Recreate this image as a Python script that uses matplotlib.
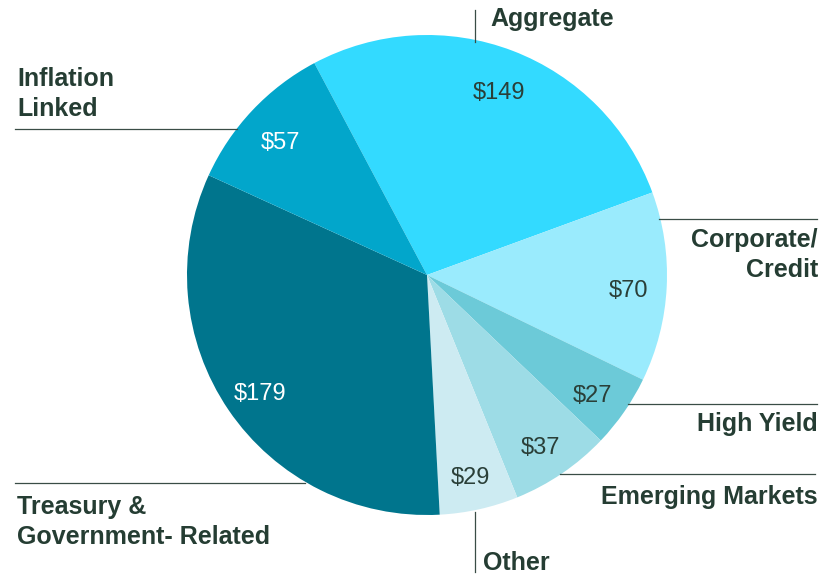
import matplotlib.pyplot as plt
from matplotlib.lines import Line2D

W, H = 839, 574

# data
categories = ['Aggregate', 'Corporate/\nCredit', 'High Yield', 'Emerging Markets',
              'Other', 'Treasury &\nGovernment- Related', 'Inflation\nLinked']
values = [149, 70, 27, 37, 29, 179, 57]
colors = ['#33DAFF', '#9AEBFD', '#6CCAD8', '#9DDCE6', '#CDEBF2', '#00758D', '#02A6CB']
value_colors = ['#2A3F38', '#2A3F38', '#2A3F38', '#2A3F38', '#2A3F38', 'white', 'white']

# label placement (pixels): x, y, ha
label_pos = [(490, 19, 'left'), (818, 255, 'right'), (818, 424, 'right'),
             (818, 497, 'right'), (483, 563, 'left'), (17, 522, 'left'), (17, 94, 'left')]
# leader lines (pixels)
leaders = [((475, 475), (10, 42)), ((659, 817), (219, 219)), ((628, 817), (404, 404)),
           ((560, 815), (474, 474)), ((475, 475), (512, 572)), ((15, 305), (483, 483)),
           ((15, 237), (129, 129))]

plt.rcParams['font.family'] = ['Liberation Sans', 'DejaVu Sans']
text_col = '#253D33'

fig = plt.figure(figsize=(W / 100, H / 100), dpi=100)
cx, cy, r = 427, 275, 240
ax = fig.add_axes([(cx - r) / W, (H - cy - r) / H, 2 * r / W, 2 * r / H])

total = sum(values)
wedges, _, autotexts = ax.pie(values, colors=colors, startangle=118, counterclock=False,
                              autopct=lambda p: f'${p * total / 100:.0f}', pctdistance=0.84,
                              wedgeprops=dict(linewidth=0), textprops=dict(fontsize=17))
for t, c in zip(autotexts, value_colors):
    t.set_color(c)
    x, y = t.get_position()
    t.set_position((x, y - 0.025))
ax.set_xlim(-1, 1)
ax.set_ylim(-1, 1)
ax.set_aspect('equal')

for (xs, ys) in leaders:
    fig.add_artist(Line2D([x / W for x in xs], [1 - y / H for y in ys],
                          color='#3A4D46', linewidth=0.9))

for name, (x, y, ha) in zip(categories, label_pos):
    fig.text(x / W, 1 - y / H, name, ha=ha, va='center', fontsize=18, fontweight='bold',
             color=text_col, linespacing=1.3)

fig.savefig('out.png', dpi=100)
